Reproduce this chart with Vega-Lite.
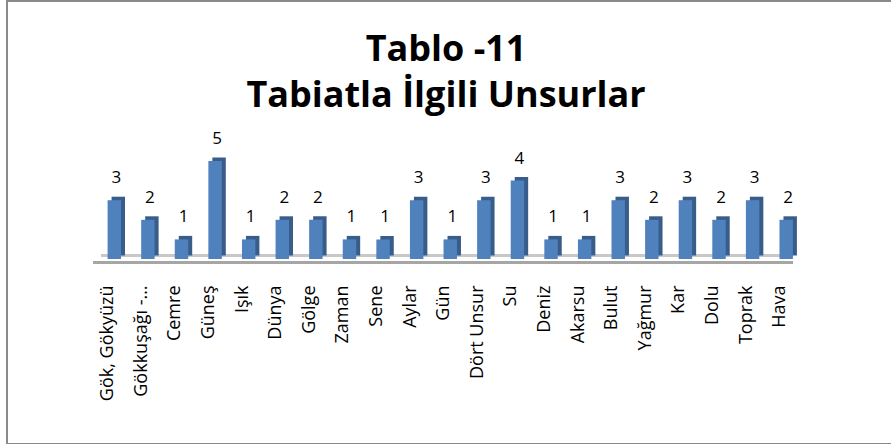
{
  "$schema": "https://vega.github.io/schema/vega-lite/v6.json",
  "width": 890,
  "height": 443,
  "autosize": {"type": "none"},
  "padding": {"left": 7, "top": 1, "right": 0, "bottom": 0},
  "background": "white",
  "config": {
    "view": {"stroke": "#8a8a8a", "strokeWidth": 2},
    "font": "Open Sans"
  },
  "title": {
    "text": ["Tablo -11", "Tabiatla İlgili Unsurlar"],
    "font": "Open Sans",
    "fontSize": 36,
    "fontWeight": "bold",
    "color": "#000000",
    "lineHeight": 46,
    "anchor": "middle",
    "baseline": "top",
    "offset": -114,
    "dx": -6
  },
  "data": {
    "values": [
      {"unsur": "Gök, Gökyüzü", "sayi": 3},
      {"unsur": "Gökkuşağı -…", "sayi": 2},
      {"unsur": "Cemre", "sayi": 1},
      {"unsur": "Güneş", "sayi": 5},
      {"unsur": "Işık", "sayi": 1},
      {"unsur": "Dünya", "sayi": 2},
      {"unsur": "Gölge", "sayi": 2},
      {"unsur": "Zaman", "sayi": 1},
      {"unsur": "Sene", "sayi": 1},
      {"unsur": "Aylar", "sayi": 3},
      {"unsur": "Gün", "sayi": 1},
      {"unsur": "Dört Unsur", "sayi": 3},
      {"unsur": "Su", "sayi": 4},
      {"unsur": "Deniz", "sayi": 1},
      {"unsur": "Akarsu", "sayi": 1},
      {"unsur": "Bulut", "sayi": 3},
      {"unsur": "Yağmur", "sayi": 2},
      {"unsur": "Kar", "sayi": 3},
      {"unsur": "Dolu", "sayi": 2},
      {"unsur": "Toprak", "sayi": 3},
      {"unsur": "Hava", "sayi": 2}
    ]
  },
  "encoding": {
    "x": {
      "field": "unsur",
      "type": "nominal",
      "sort": null,
      "title": null,
      "scale": {
        "domain": ["Gök, Gökyüzü", "Gökkuşağı -…", "Cemre", "Güneş", "Işık", "Dünya", "Gölge", "Zaman", "Sene", "Aylar", "Gün", "Dört Unsur", "Su", "Deniz", "Akarsu", "Bulut", "Yağmur", "Kar", "Dolu", "Toprak", "Hava"],
        "range": [90.5, 796], "paddingInner": 0.6, "paddingOuter": 0.3
      },
      "axis": {
        "orient": "bottom",
        "offset": -182,
        "domain": false,
        "ticks": false,
        "labelAngle": -90,
        "labelFont": "Open Sans",
        "labelFontSize": 18,
        "labelColor": "#000000",
        "labelPadding": 23,
        "labelOffset": -6,
        "labelLimit": 300,
        "labelOverlap": false
      }
    },
    "y": {
      "field": "sayi",
      "type": "quantitative",
      "title": null,
      "scale": {"domain": [0, 5], "range": [258, 160], "nice": false, "zero": true},
      "axis": null
    }
  },
  "layer": [
    {
      "mark": {"type": "rule", "color": "#a6a6a6", "strokeWidth": 2, "yOffset": 3.5, "xOffset": -14},
      "encoding": {
        "x": {"datum": "Gök, Gökyüzü", "type": "nominal", "bandPosition": 0},
        "x2": {"datum": "Hava", "bandPosition": 1},
        "y": {"datum": 0, "type": "quantitative"}
      }
    },
    {
      "mark": {"type": "rule", "color": "#c8c8c8", "strokeWidth": 1.5, "yOffset": -3.5, "xOffset": -6},
      "encoding": {
        "x": {"datum": "Gök, Gökyüzü", "type": "nominal", "bandPosition": 0},
        "x2": {"datum": "Hava", "bandPosition": 1},
        "y": {"datum": 0, "type": "quantitative"}
      }
    },
    {
      "mark": {"type": "bar", "color": "#385d8a", "xOffset": 4, "yOffset": -3.5}
    },
    {
      "mark": {"type": "bar", "color": "#4f81bd"}
    },
    {
      "mark": {"type": "text", "font": "Open Sans", "fontSize": 17, "color": "#000000", "baseline": "alphabetic", "dy": -17, "dx": 2},
      "encoding": {"text": {"field": "sayi", "type": "quantitative"}}
    }
  ]
}
